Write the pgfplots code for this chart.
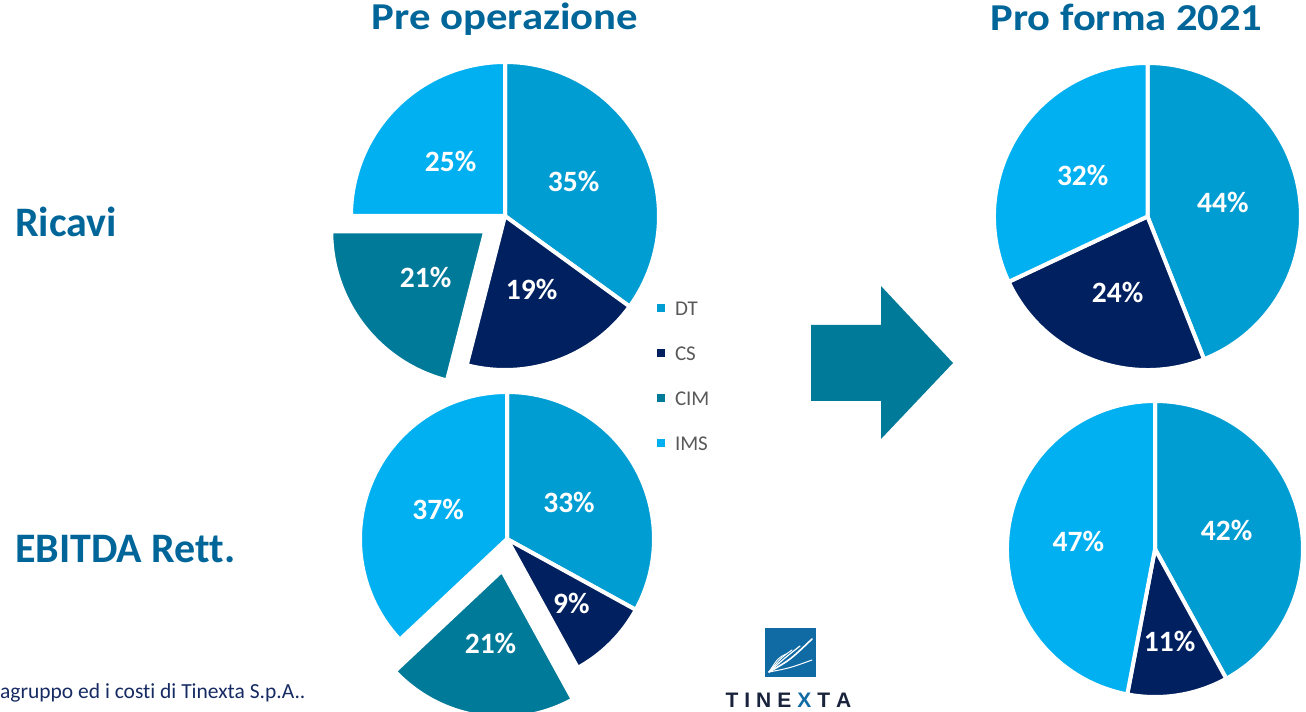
\documentclass[border=0pt]{standalone}
\usepackage{pgfplots}
\pgfplotsset{compat=1.18}
\usepackage{pgfplotstable}
\usepackage{graphicx}
\usepackage{fontspec}
\setmainfont{Carlito}[Ligatures=NoCommon]
\newfontfamily\logofont{Liberation Sans}

\definecolor{cDT}{RGB}{0,157,210}
\definecolor{cCS}{RGB}{0,32,96}
\definecolor{cCIM}{RGB}{0,122,153}
\definecolor{cIMS}{RGB}{0,176,240}
\definecolor{ctitle}{RGB}{0,102,153}
\definecolor{clegend}{RGB}{89,89,89}
\definecolor{cnote}{RGB}{23,43,99}
\definecolor{clogo}{RGB}{16,107,165}
\definecolor{clogotext}{RGB}{25,35,60}

% value = share in %, explode = offset of the slice (bp), lab = label radius / pie radius
\pgfplotstableread{
cat value col explode lab
DT  35 cDT  0  0.50
CS  19 cCS  0  0.51
CIM 21 cCIM 25 0.49
IMS 25 cIMS 0  0.50
}\ricavipre
\pgfplotstableread{
cat value col explode lab
DT  33 cDT  0  0.49
CS  9  cCS  0  0.62
CIM 21 cCIM 32 0.50
IMS 37 cIMS 0  0.51
}\ebitdapre
\pgfplotstableread{
cat value col explode lab
DT  44 cDT  0 0.50
CS  24 cCS  0 0.53
IMS 32 cIMS 0 0.50
}\ricavipro
\pgfplotstableread{
cat value col explode lab
DT  42 cDT  0 0.50
CS  11 cCS  0 0.63
IMS 47 cIMS 0 0.52
}\ebitdapro

\newcommand\labfont{\bfseries\fontsize{29.5bp}{29.5bp}\selectfont}

% #1 table, #2 cx, #3 cy, #4 radius
\newcommand\drawpie[4]{%
  \pgfplotstablegetrowsof{#1}%
  \pgfmathtruncatemacro\lastrow{\pgfplotsretval-1}%
  \def\cum{0}%
  \pgfplotsforeachungrouped \i in {0,...,\lastrow}{%
    \pgfplotstablegetelem{\i}{value}\of{#1}\let\val\pgfplotsretval
    \pgfplotstablegetelem{\i}{col}\of{#1}\let\col\pgfplotsretval
    \pgfplotstablegetelem{\i}{explode}\of{#1}\let\ex\pgfplotsretval
    \pgfplotstablegetelem{\i}{lab}\of{#1}\let\lf\pgfplotsretval
    \pgfmathsetmacro\sa{90-3.6*\cum}%
    \pgfmathsetmacro\ea{90-3.6*(\cum+\val)}%
    \pgfmathsetmacro\ma{(\sa+\ea)/2}%
    \pgfmathsetmacro\px{#2+\ex*cos(\ma)}%
    \pgfmathsetmacro\py{#3+\ex*sin(\ma)}%
    \pgfmathsetmacro\lx{\px+\lf*#4*cos(\ma)}%
    \pgfmathsetmacro\ly{\py+\lf*#4*sin(\ma)}%
    \pgfmathtruncatemacro\vi{\val}%
    \edef\temp{%
      \noexpand\fill[\col, draw=white, line width=4bp, line join=miter]
        (axis cs:\px,\py) -- ++(canvas polar cs:angle=\sa,radius=#4bp)
        arc[start angle=\sa, end angle=\ea, radius=#4bp] -- cycle;
      \noexpand\node[text=white, font=\noexpand\labfont, inner sep=0pt]
        at (axis cs:\lx,\ly) {\vi\noexpand\%};
    }%
    \temp
    \pgfmathsetmacro\cum{\cum+\val}%
  }%
}

\begin{document}
\begin{tikzpicture}
\useasboundingbox (0,0) rectangle (1306bp,712bp);
\begin{axis}[
  at={(0,0)}, anchor=origin,
  x=1bp, y=1bp,
  xmin=0, xmax=1306, ymin=0, ymax=712,
  hide axis, clip=false,
  legend image code/.code={\fill[#1] (0bp,-3.5bp) rectangle (8bp,4.5bp);},
  legend cell align=left,
  legend style={
    at={(axis cs:657,411)}, anchor=north west,
    draw=none, fill=none, inner sep=0pt, outer sep=0pt,
    row sep=31bp, column sep=10bp,
    text=clegend,
    font=\fontsize{21bp}{21bp}\selectfont,
    nodes={inner sep=0pt, text height=14bp, text depth=0bp},
  },
]
\addlegendimage{fill=cDT, draw=none}
\addlegendentry{DT}
\addlegendimage{fill=cCS, draw=none}
\addlegendentry{CS}
\addlegendimage{fill=cCIM, draw=none}
\addlegendentry{CIM}
\addlegendimage{fill=cIMS, draw=none}
\addlegendentry{IMS}

\drawpie{\ricavipre}{505}{496}{154}
\drawpie{\ebitdapre}{507}{173}{147}
\drawpie{\ricavipro}{1147.5}{495.5}{153.5}
\drawpie{\ebitdapro}{1155}{163}{148}

% titles and row labels
\node[anchor=base, inner sep=0pt, text=ctitle, font=\bfseries\fontsize{38bp}{38bp}\selectfont]
  at (axis cs:505,682) {\scalebox{1.125}[1]{Pre operazione}};
\node[anchor=base, inner sep=0pt, text=ctitle, font=\bfseries\fontsize{38bp}{38bp}\selectfont]
  at (axis cs:1126.5,681) {\scalebox{1.12}[1]{Pro forma 2021}};
\node[anchor=base west, inner sep=0pt, text=ctitle, font=\bfseries\fontsize{42bp}{42bp}\selectfont]
  at (axis cs:15,475) {Ricavi};
\node[anchor=base west, inner sep=0pt, text=ctitle, font=\bfseries\fontsize{42bp}{42bp}\selectfont]
  at (axis cs:15,150) {EBITDA Rett.};

% arrow
\fill[cCIM] (axis cs:811,387) -- (axis cs:881,387) -- (axis cs:881,426) -- (axis cs:953,349)
  -- (axis cs:881,273) -- (axis cs:881,311) -- (axis cs:811,311) -- cycle;

% footnote
\node[anchor=base west, inner sep=0pt, text=cnote, font=\fontsize{21.5bp}{21.5bp}\selectfont]
  at (axis cs:0,14) {agruppo ed i costi di Tinexta S.p.A..};

% logo
\fill[clogo] (axis cs:765,35) rectangle (axis cs:816,84);
\begin{scope}[white, line cap=round]
\draw[line width=1.6bp] (axis cs:769,40) .. controls (axis cs:790,52) .. (axis cs:812,73);
\draw[line width=1.2bp] (axis cs:769,40) .. controls (axis cs:786,55) .. (axis cs:800,66);
\draw[line width=1.0bp] (axis cs:769,40) .. controls (axis cs:782,55) .. (axis cs:792,62);
\draw[line width=0.9bp] (axis cs:769,40) .. controls (axis cs:778,54) .. (axis cs:786,58);
\draw[line width=1.0bp] (axis cs:769,40) .. controls (axis cs:790,44) .. (axis cs:812,52);
\end{scope}
\node[anchor=base, inner sep=0pt, font=\logofont\bfseries\fontsize{21bp}{21bp}\selectfont, text=clogotext]
  at (axis cs:788.5,5) {T\kern6bp I\kern6bp N\kern6bp E\kern6bp\textcolor{clogo}{X}\kern6bp T\kern6bp A};
\end{axis}
\end{tikzpicture}
\end{document}
